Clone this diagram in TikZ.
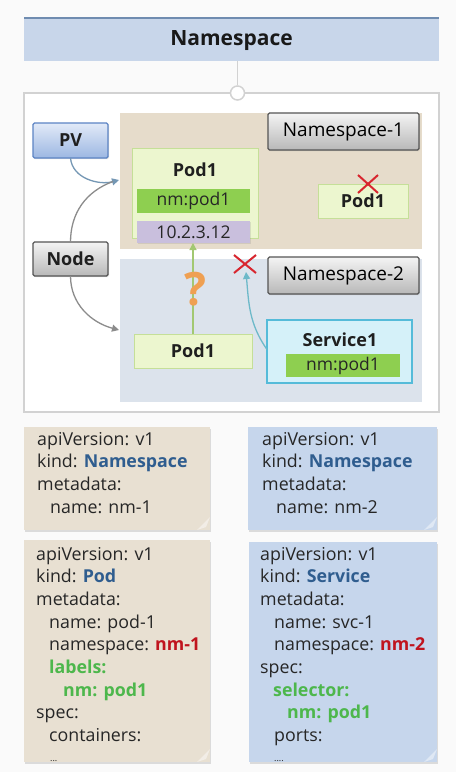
\documentclass[tikz,border=0pt]{standalone}
\usepackage{fontspec}
\setmainfont{Open Sans}
\usetikzlibrary{arrows.meta,shadows,calc}
\definecolor{bgc}{HTML}{FAFAFA}
\definecolor{hdrblue}{HTML}{C8D6EA}
\definecolor{hdrline}{HTML}{6F8CB0}
\definecolor{framegray}{HTML}{D2D2D2}
\definecolor{nsone}{HTML}{E6DCCB}
\definecolor{nstwo}{HTML}{DCE3EC}
\definecolor{podfill}{HTML}{ECF6CF}
\definecolor{podline}{HTML}{C5DF98}
\definecolor{lblgreen}{HTML}{8ECF50}
\definecolor{ipfill}{HTML}{C9BFDD}
\definecolor{svcfill}{HTML}{D5F1F9}
\definecolor{svcline}{HTML}{55BBD9}
\definecolor{pvtop}{HTML}{E2EAF8}
\definecolor{pvbot}{HTML}{9CB7E2}
\definecolor{pvline}{HTML}{5C84C4}
\definecolor{gtop}{HTML}{F4F4F4}
\definecolor{gbot}{HTML}{B8B8B8}
\definecolor{gline}{HTML}{555555}
\definecolor{xred}{HTML}{D8262F}
\definecolor{qorange}{HTML}{EFA052}
\definecolor{arrgray}{HTML}{8C8C8C}
\definecolor{arrblue}{HTML}{7497B4}
\definecolor{arrgreen}{HTML}{A2C872}
\definecolor{arrteal}{HTML}{6DB9C9}
\definecolor{ytan}{HTML}{E8E0D2}
\definecolor{yblue}{HTML}{C6D6EC}
\definecolor{kblue}{HTML}{2F5D8F}
\definecolor{kred}{HTML}{C0141E}
\definecolor{kgreen}{HTML}{4DB74C}
\definecolor{ytext}{HTML}{262626}
\begin{document}
\begin{tikzpicture}[x=1pt,y=-1pt,
  boxrect/.style={rectangle,inner sep=0,outer sep=0},
  graylbl/.style={boxrect,draw=gline,line width=1.2pt,top color=gtop,bottom color=gbot,
     rounded corners=1.5pt,drop shadow={shadow xshift=1pt,shadow yshift=-1pt,opacity=.25},
     font=\fontsize{19}{22}\selectfont,text=black},
  podbox/.style={boxrect,fill=podfill,draw=podline,line width=1pt,
     drop shadow={shadow xshift=1pt,shadow yshift=-1pt,opacity=.2}},
  bar/.style={boxrect,font=\fontsize{17.5}{20}\selectfont,text=ytext},
  bold/.style={font=\fontsize{18}{20}\selectfont\bfseries,text=black!88},
  yl/.style={anchor=base west,inner sep=0,font=\fontsize{17.8}{20}\selectfont,text=ytext},
  yamlbox/.style={boxrect,drop shadow={shadow xshift=1pt,shadow yshift=-1.5pt,opacity=.25}},
  arr/.style={line width=1.3pt,-{Triangle[length=7pt,width=7pt]}},
  xmark/.style={xred,line width=2pt}
]
\useasboundingbox (0,0) rectangle (456,772);
\fill[bgc] (0,0) rectangle (456,772);

% header
\node[boxrect,fill=hdrblue,minimum width=415,minimum height=43] (hdr) at (231.5,39.5) {};
\draw[hdrline,line width=2.5pt] (hdr.north west) -- (hdr.north east);
\node[font=\fontsize{21}{24}\selectfont\bfseries,text=black!90] (title) at (231.5,41) {Namespace};

% outer frame
\node[boxrect,draw=framegray,line width=2pt,fill=white,minimum width=415,minimum height=319] (frame) at (231.5,252.5) {};
\node[circle,draw=framegray,fill=white,line width=1.5pt,minimum size=14,inner sep=0] (knob) at (237.5,93) {};
\draw[framegray,line width=1.5pt] (knob.north |- hdr.south) -- (knob.north);

% namespace regions
\node[boxrect,fill=nsone,minimum width=302,minimum height=136] (ns1) at (271,181) {};
\node[boxrect,fill=nstwo,minimum width=302,minimum height=143] (ns2) at (271,330.5) {};

\node[graylbl,minimum width=151,minimum height=37] (ns1lbl) at (343.5,131.5) {Namespace-1};
\node[graylbl,minimum width=151,minimum height=37] (ns2lbl) at (343.5,275.5) {Namespace-2};

% PV and Node
\node[boxrect,draw=pvline,line width=1.2pt,top color=pvtop,bottom color=pvbot,rounded corners=1.5pt,
  drop shadow={shadow xshift=1pt,shadow yshift=-1pt,opacity=.25},minimum width=75,minimum height=35,bold] (pv) at (70.5,140.5) {PV};
\node[graylbl,minimum width=75,minimum height=34,bold] (node) at (70.5,259) {Node};

% Pod1 in namespace-1
\node[podbox,minimum width=126,minimum height=90] (pod1) at (195,193) {};
\node[bold] (pod1t) at (195,170) {Pod1};
\node[bar,fill=lblgreen,minimum width=113,minimum height=24] (pod1lbl) at (193.5,201) {nm:pod1};
\node[bar,fill=ipfill,minimum width=113,minimum height=22,
  drop shadow={shadow xshift=1pt,shadow yshift=-1pt,opacity=.2}] (pod1ip) at (193.5,232) {10.2.3.12};

\node[podbox,minimum width=90,minimum height=34,bold] (pod1b) at (363,201) {Pod1};
\coordinate (xa) at (368,184);
\draw[xmark] ($(xa)+(-10,-9)$) -- ($(xa)+(10,9)$);
\draw[xmark] ($(xa)+(10,-9)$) -- ($(xa)+(-10,9)$);

% Pod1 in namespace-2
\node[podbox,minimum width=118,minimum height=34,bold] (pod2) at (193,351) {Pod1};

% Service1
\node[boxrect,fill=svcfill,draw=svcline,line width=1.3pt,minimum width=145,minimum height=63,
  drop shadow={shadow xshift=1pt,shadow yshift=-1pt,opacity=.2}] (svc) at (339.5,351.5) {};
\node[bold] (svct) at (340,339.5) {Service1};
\node[bar,fill=lblgreen,minimum width=114,minimum height=23] (svclbl) at (343,365.5) {nm:pod1};

% arrows
\coordinate (in1) at (119,180);
\coordinate (in2) at (119,330);
\draw[arr,arrblue] (pv.south) to[out=-85,in=195] (in1);
\draw[arrgray,line width=1.3pt] (node.north) to[out=90,in=200] ($(in1)+(-6,1.5)$);
\draw[arr,arrgray] (node.south) to[out=-90,in=165] (in2);
\draw[arr,arrgreen] (pod2.north) -- (pod2.north |- pod1ip.south);
\node[font=\fontsize{46}{46}\selectfont\bfseries,text=qorange] (qm) at (195,289) {?};
\coordinate (tip) at (246,272);
\draw[arr,arrteal] ($(svc.west)+(0,-2)$) to[out=125,in=-85] (tip);
\coordinate (xb) at (245,264);
\draw[xmark] ($(xb)+(-11,-9)$) -- ($(xb)+(11,9)$);
\draw[xmark] ($(xb)+(11,-9)$) -- ($(xb)+(-11,9)$);

% YAML boxes
\node[yamlbox,fill=ytan,minimum width=186,minimum height=103] (ytl) at (117,478.5) {};
\node[yamlbox,fill=yblue,minimum width=189,minimum height=103] (ytr) at (342.5,478.5) {};
\node[yamlbox,fill=ytan,minimum width=186,minimum height=222] (ybl) at (117,651) {};
\node[yamlbox,fill=yblue,minimum width=188,minimum height=220] (ybr) at (343,652) {};
\foreach \b in {ytl,ytr,ybl,ybr}{
  \fill[white,opacity=.45] ([xshift=-13pt]\b.south east) -- ([yshift=13pt]\b.south east)
     -- ([xshift=-4pt,yshift=3pt]\b.south east) -- cycle;
}

% top-left text
\node[yl] (a1) at (37,445) {apiVersion: v1};
\node[yl] (a2) at (37,467.8) {kind: \textcolor{kblue}{\bfseries Namespace}};
\node[yl] (a3) at (37,490.6) {metadata:};
\node[yl] (a4) at (50,513.4) {name: nm-1};
% top-right text
\node[yl] (b1) at (262,445) {apiVersion: v1};
\node[yl] (b2) at (262,467.8) {kind: \textcolor{kblue}{\bfseries Namespace}};
\node[yl] (b3) at (262,490.6) {metadata:};
\node[yl] (b4) at (276,513.4) {name: nm-2};
% bottom-left text
\node[yl] (c1) at (36,560) {apiVersion: v1};
\node[yl] (c2) at (36,582.7) {kind: \textcolor{kblue}{\bfseries Pod}};
\node[yl] (c3) at (36,605.4) {metadata:};
\node[yl] (c4) at (49,628.1) {name: pod-1};
\node[yl] (c5) at (49,650.8) {namespace: \textcolor{kred}{\bfseries nm-1}};
\node[yl] (c6) at (49,673.5) {\textcolor{kgreen}{\bfseries labels:}};
\node[yl] (c7) at (63,696.2) {\textcolor{kgreen}{\bfseries nm: pod1}};
\node[yl] (c8) at (36,718.9) {spec:};
\node[yl] (c9) at (49,741.6) {containers:};
\node[yl,font=\fontsize{9}{10}\selectfont] (c10) at (50,761) {...};
% bottom-right text
\node[yl] (d1) at (260,560) {apiVersion: v1};
\node[yl] (d2) at (260,582.7) {kind: \textcolor{kblue}{\bfseries Service}};
\node[yl] (d3) at (260,605.4) {metadata:};
\node[yl] (d4) at (274,628.1) {name: svc-1};
\node[yl] (d5) at (274,650.8) {namespace: \textcolor{kred}{\bfseries nm-2}};
\node[yl] (d6) at (260,673.5) {spec:};
\node[yl] (d7) at (273,696.2) {\textcolor{kgreen}{\bfseries selector:}};
\node[yl] (d8) at (287,718.9) {\textcolor{kgreen}{\bfseries nm: pod1}};
\node[yl] (d9) at (274,741.6) {ports:};
\node[yl,font=\fontsize{9}{10}\selectfont] (d10) at (274,761) {....};
\end{tikzpicture}
\end{document}
